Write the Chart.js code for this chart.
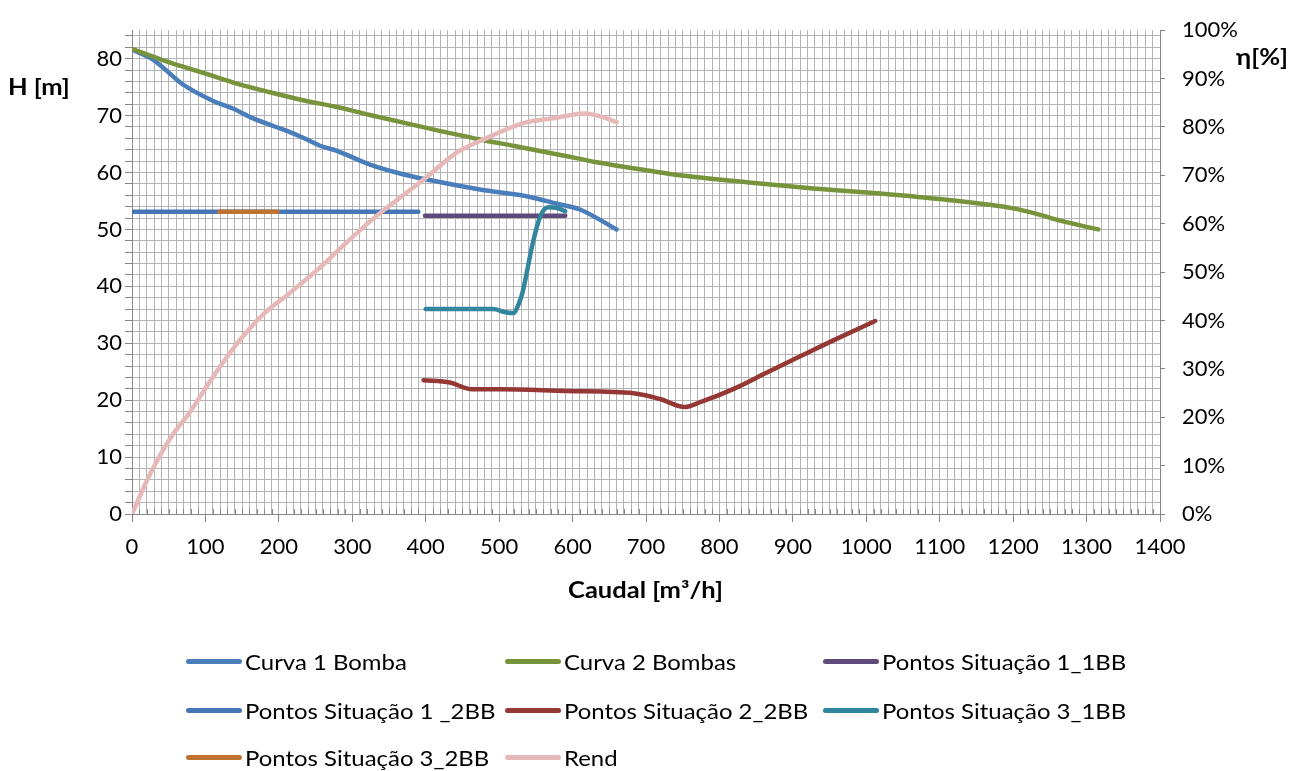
<!DOCTYPE html>
<html>
<head>
<meta charset="utf-8">
<script src="https://cdn.jsdelivr.net/npm/chart.js@4.4.1/dist/chart.umd.min.js"></script>
<style>
  html, body { margin: 0; padding: 0; background: #fff; }
  #wrap { position: relative; width: 1295px; height: 771px; font-family: Lato, 'Open Sans', sans-serif; color: #000; }
  #c { position: absolute; left: 0; top: 0; }
  .title { position: absolute; font-weight: bold; font-size: 22px; white-space: nowrap; line-height: 1; transform: scaleX(1.16); transform-origin: left center; }
  #legend { position: absolute; left: 0; top: 0; width: 1295px; height: 771px; pointer-events: none; }
  .li { position: absolute; display: flex; align-items: center; font-size: 21px; white-space: nowrap; }
  .li span.sw { display: inline-block; width: 56px; height: 5px; border-radius: 3px; margin-right: 3px; }
  .li span.tx { display: inline-block; transform: scaleX(1.14); transform-origin: left center; }
</style>
</head>
<body>
<div id="wrap">
  <canvas id="c" width="1295" height="771"></canvas>
  <div class="title" id="tY" style="left:8px; top:76px;">H [m]</div>
  <div class="title" id="tY2" style="left:1236px; top:46px;">η[%]</div>
  <div class="title" id="tX" style="left:568px; top:579px;">Caudal [m³/h]</div>
  <div id="legend"></div>
</div>
<script>
// ---- data ----
const seriesNames = ['Curva 1 Bomba', 'Curva 2 Bombas', 'Pontos Situação 1_1BB', 'Pontos Situação 1 _2BB',
                     'Pontos Situação 2_2BB', 'Pontos Situação 3_1BB', 'Pontos Situação 3_2BB', 'Rend'];

const curva1Q = [0, 29, 69, 110, 138, 165, 211, 233, 256, 279, 324, 369, 400, 474, 542, 579, 610, 660];
const curva1H = [81.6, 79.8, 75.5, 72.6, 71.2, 69.5, 67.3, 66.1, 64.7, 63.8, 61.4, 59.7, 58.8, 57.0, 55.7, 54.5, 53.5, 50.0];

const curva2Q = [0, 52, 97, 138, 188, 233, 279, 324, 392, 474, 519, 587, 633, 705, 746, 837, 928, 1019, 1109, 1200, 1227, 1268, 1316];
const curva2H = [81.7, 79.3, 77.5, 75.8, 74.1, 72.7, 71.5, 70.1, 68.1, 65.8, 64.7, 63.0, 61.8, 60.3, 59.5, 58.3, 57.2, 56.3, 55.2, 53.7, 52.9, 51.4, 50.0];

const sit1_1Q = [399, 590];
const sit1_1H = [52.4, 52.4];

const sit1_2Q = [0, 390];
const sit1_2H = [53.1, 53.1];

const sit2_2Q = [397, 433, 463, 501, 592, 683, 719, 753, 773, 818, 864, 910, 955, 1012];
const sit2_2H = [23.5, 23.1, 21.9, 21.9, 21.6, 21.2, 20.2, 18.8, 19.6, 21.9, 24.8, 27.7, 30.5, 33.9];

const sit3_1Q = [400, 450, 492, 507, 519, 527, 532, 546, 556, 567, 578, 590];
const sit3_1H = [36.0, 36.0, 36.0, 35.5, 35.3, 37.0, 39.0, 47.7, 52.3, 53.9, 53.8, 53.2];

const sit3_2Q = [119, 198];
const sit3_2H = [53.1, 53.1];

const rendQ = [0, 24.5, 52, 79, 111, 143, 179, 215, 252, 292, 329, 361, 401, 442, 483, 533, 578, 615, 633, 660];
const rendPct = [0, 8.2, 15.6, 21.1, 28.5, 35.2, 41.3, 45.7, 50.4, 56.1, 61.1, 64.9, 69.6, 74.7, 77.7, 80.8, 81.9, 82.8, 82.4, 81.0];

const xTickValues = [];   // gridlines every 10, labels every 100
for (let v = 0; v <= 1400; v += 10) xTickValues.push(v);
const yTickValues = [];   // gridlines every 2, labels every 10
for (let v = 0; v <= 84; v += 2) yTickValues.push(v);
const y2TickValues = [0, 10, 20, 30, 40, 50, 60, 70, 80, 90, 100];

const colors = ['#4a7ebb', '#77933c', '#604a7b', '#4676b6', '#953735', '#31859c', '#c0722f', '#e6b9b8'];

// ---- build ----
function pts(qs, hs) { return qs.map((q, i) => ({ x: q, y: hs[i] })); }
const seriesData = [
  pts(curva1Q, curva1H), pts(curva2Q, curva2H), pts(sit1_1Q, sit1_1H), pts(sit1_2Q, sit1_2H),
  pts(sit2_2Q, sit2_2H), pts(sit3_1Q, sit3_1H), pts(sit3_2Q, sit3_2H), pts(rendQ, rendPct)
];

const datasets = seriesNames.map((name, i) => ({
  label: name,
  data: seriesData[i],
  yAxisID: i === 7 ? 'y2' : 'y',
  borderColor: colors[i],
  backgroundColor: colors[i],
  borderWidth: 4.5,
  borderCapStyle: 'round',
  borderJoinStyle: 'round',
  pointRadius: 0,
  fill: false,
  cubicInterpolationMode: 'monotone',
  order: -i
}));

const AXIS = '#868686';
const GRID = '#b3b3b3';

const minorTicks = {
  id: 'minorTicks',
  beforeDatasetsDraw(chart) {
    const ctx = chart.ctx, x = chart.scales.x, a = chart.chartArea;
    ctx.save();
    ctx.strokeStyle = AXIS;
    ctx.lineWidth = 1;
    ctx.beginPath();
    xTickValues.forEach(v => {
      if (v % 100 !== 0) {
        const px = Math.round(x.getPixelForValue(v)) + 0.5;
        ctx.moveTo(px, a.bottom - 5);
        ctx.lineTo(px, a.bottom);
      }
    });
    ctx.stroke();
    ctx.restore();
  }
};

Chart.defaults.font.family = 'Lato, "Open Sans", sans-serif';
Chart.defaults.font.size = 22;
Chart.defaults.color = '#000';

const chart = new Chart(document.getElementById('c'), {
  type: 'line',
  data: { datasets },
  options: {
    responsive: false,
    animation: false,
    devicePixelRatio: 1,
    layout: { padding: { top: 20, left: 0, right: 0, bottom: 0 } },
    plugins: { legend: { display: false }, tooltip: { enabled: false } },
    scales: {
      x: {
        type: 'linear', min: 0, max: 1400,
        afterBuildTicks: s => { s.ticks = xTickValues.map(v => ({ value: v })); },
        afterFit: s => { s.height = 771 - 514; },
        ticks: { autoSkip: false, maxRotation: 0, padding: 12,
                 callback: v => (v % 100 === 0 ? String(v) : '') },
        grid: { color: GRID, lineWidth: 1, tickLength: 8,
                tickColor: c => (c.tick && c.tick.value % 100 === 0 ? AXIS : 'rgba(0,0,0,0)') },
        border: { color: AXIS, width: 1 }
      },
      y: {
        type: 'linear', position: 'left', min: 0, max: 85,
        afterBuildTicks: s => { s.ticks = yTickValues.map(v => ({ value: v })); },
        afterFit: s => { s.width = 132; },
        ticks: { autoSkip: false, padding: 3,
                 callback: v => (v % 10 === 0 ? String(v) : '') },
        grid: { color: GRID, lineWidth: 1, tickLength: 7, tickColor: AXIS },
        border: { color: AXIS, width: 1 }
      },
      y2: {
        type: 'linear', position: 'right', min: 0, max: 100,
        afterBuildTicks: s => { s.ticks = y2TickValues.map(v => ({ value: v })); },
        afterFit: s => { s.width = 1295 - 1160; },
        ticks: { autoSkip: false, padding: 17, callback: v => v + '%' },
        grid: { display: true, drawOnChartArea: false, tickLength: 5, tickColor: AXIS },
        border: { color: AXIS, width: 1 }
      }
    }
  },
  plugins: [minorTicks]
});

// ---- legend from chart datasets ----
const legendPos = [
  [186, 661], [505, 661], [823, 661],
  [186, 710], [505, 710], [823, 710],
  [186, 757], [505, 757]
];
const lg = document.getElementById('legend');
chart.data.datasets.forEach((ds, i) => {
  const d = document.createElement('div');
  d.className = 'li';
  d.style.left = legendPos[i][0] + 'px';
  d.style.top = (legendPos[i][1] - 14) + 'px';
  d.style.height = '28px';
  const sw = document.createElement('span');
  sw.className = 'sw';
  sw.style.background = ds.borderColor;
  const t = document.createElement('span');
  t.className = 'tx';
  t.textContent = ds.label;
  d.appendChild(sw); d.appendChild(t);
  lg.appendChild(d);
});
</script>
</body>
</html>
